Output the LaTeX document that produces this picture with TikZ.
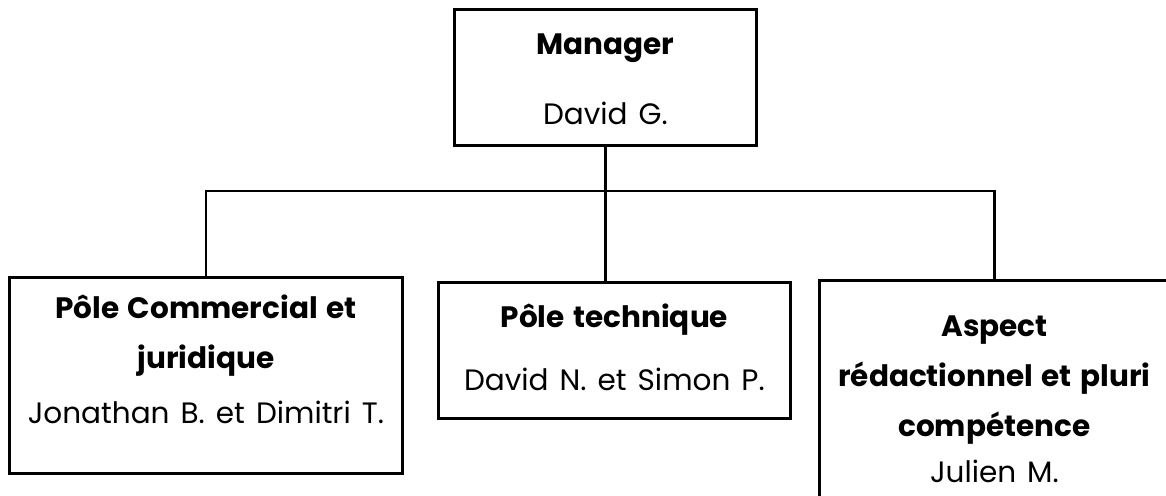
\documentclass[tikz,border=0pt]{standalone}
\usepackage{fontspec}
\setmainfont{Poppins}[WordSpace=1.4]
\usetikzlibrary{positioning}

\tikzset{
  orgbox/.style={draw, line width=2.8pt, rectangle, inner sep=0pt, anchor=north west},
  orgtext/.style={align=center, inner sep=0pt, anchor=north, font=\fontsize{29.5}{50}\selectfont},
  orgline/.style={line width=2.8pt},
}

\begin{document}
\begin{tikzpicture}[x=1pt,y=-1pt]
\clip (0,0) rectangle (1166,495);
% boxes
\node[orgbox, minimum width=302pt, minimum height=136pt] (manager) at (453,8) {};
\node[orgbox, minimum width=393pt, minimum height=196pt] (commercial) at (8,276) {};
\node[orgbox, minimum width=352pt, minimum height=136pt] (technique) at (437,281) {};
\node[orgbox, minimum width=350pt, minimum height=260pt] (redaction) at (818,279) {};
% texts
\node[orgtext, below=11pt of manager.north] (managertxt) {\strut\textbf{Manager}\\[20pt]David G.};
\node[orgtext, below=7pt of commercial.north] (commercialtxt) {\strut\textbf{Pôle Commercial et}\\\textbf{juridique}\\[5pt]Jonathan B. et Dimitri T.};
\node[orgtext, below=11pt of technique.north] (techniquetxt) {\strut\textbf{Pôle technique}\\[13pt]David N. et Simon P.};
\node[orgtext, below=22pt of redaction.north] (redactiontxt) {\strut\textbf{Aspect}\\\textbf{rédactionnel et pluri}\\\textbf{compétence}\\[-4pt]Julien M.};
% links
\coordinate (bus) at (manager.south |- 0,191);
\draw[orgline] (manager.south) -- (bus);
\draw[orgline] (bus) -| (commercial.north);
\draw[orgline] (bus) -- (bus |- technique.north);
\draw[orgline] (bus) -| (redaction.north);
\end{tikzpicture}
\end{document}
